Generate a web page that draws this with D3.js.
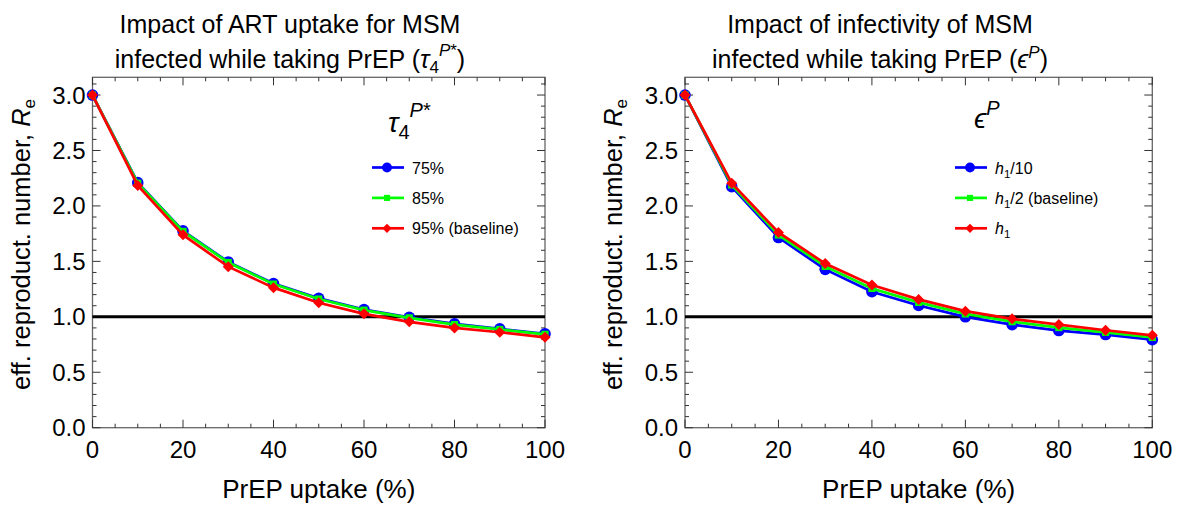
<!DOCTYPE html>
<html>
<head>
<meta charset="utf-8">
<script src="https://cdnjs.cloudflare.com/ajax/libs/d3/7.8.5/d3.min.js"></script>
<style>
  body { margin: 0; background: #fff; }
  svg { font-family: "Liberation Sans", Arial, sans-serif; }
</style>
</head>
<body>
<div id="chart"></div>
<script>
// PrEP uptake (%) on the x axis
const uptake = [0, 10, 20, 30, 40, 50, 60, 70, 80, 90, 100];

// left panel: ART uptake for MSM infected while taking PrEP
const art75 = [3.0, 2.21, 1.775, 1.495, 1.30, 1.166, 1.066, 0.996, 0.936, 0.891, 0.846];
const art85 = [3.0, 2.205, 1.77, 1.49, 1.295, 1.160, 1.060, 0.990, 0.930, 0.886, 0.842];
const art95 = [3.0, 2.185, 1.739, 1.452, 1.263, 1.127, 1.027, 0.955, 0.900, 0.861, 0.815];

// right panel: infectivity of MSM infected while taking PrEP
const infH10 = [3.0, 2.174, 1.715, 1.428, 1.226, 1.102, 1.000, 0.930, 0.876, 0.840, 0.794];
const infH2 = [3.0, 2.19, 1.738, 1.455, 1.256, 1.130, 1.026, 0.956, 0.903, 0.860, 0.814];
const infH1 = [3.0, 2.205, 1.761, 1.480, 1.286, 1.157, 1.051, 0.982, 0.930, 0.879, 0.833];

const xTicks = [0, 20, 40, 60, 80, 100];
const yTicks = [0, 0.5, 1.0, 1.5, 2.0, 2.5, 3.0];
const threshold = 1.0;

const colors = ["#0000ff", "#00ff00", "#ff0000"];
const shapes = ["circle", "square", "diamond"];

const W = 1182, H = 512;
const svg = d3.select("#chart").append("svg")
  .attr("width", W).attr("height", H);

const plotTop = 77.3, plotBottom = 427.7;

function drawMarker(g, shape, color, x, y, scale) {
  const s = scale || 1;
  if (shape === "circle") {
    g.append("circle").attr("cx", x).attr("cy", y).attr("r", 5.8 * s).attr("fill", color);
  } else if (shape === "square") {
    const a = 7.2 * s;
    g.append("rect").attr("x", x - a / 2).attr("y", y - a / 2)
      .attr("width", a).attr("height", a).attr("fill", color);
  } else {
    const d = 5.5 * s;
    g.append("path")
      .attr("d", `M${x},${y - d}L${x + d},${y}L${x},${y + d}L${x - d},${y}Z`)
      .attr("fill", color);
  }
}

function panel(opts) {
  const x = d3.scaleLinear().domain([0, 100]).range([opts.left, opts.right]);
  const y = d3.scaleLinear().domain([0, 3.16]).range([plotBottom, plotTop]);
  const g = svg.append("g");

  // frame
  g.append("rect").attr("x", opts.left).attr("y", plotTop)
    .attr("width", opts.right - opts.left).attr("height", plotBottom - plotTop)
    .attr("fill", "none").attr("stroke", "#666").attr("stroke-width", 1.3);

  // ticks (inward, mirrored)
  const xt = d3.range(0, 101, 5);
  xt.forEach(v => {
    const len = v % 20 === 0 ? 8 : 4;
    g.append("line").attr("x1", x(v)).attr("x2", x(v))
      .attr("y1", plotBottom).attr("y2", plotBottom - len).attr("stroke", "#333");
    g.append("line").attr("x1", x(v)).attr("x2", x(v))
      .attr("y1", plotTop).attr("y2", plotTop + len).attr("stroke", "#333");
  });
  const yt = d3.range(0, 32).map(i => i / 10);
  yt.forEach((v, i) => {
    const len = i % 5 === 0 ? 8 : 4;
    g.append("line").attr("x1", opts.left).attr("x2", opts.left + len)
      .attr("y1", y(v)).attr("y2", y(v)).attr("stroke", "#333");
    g.append("line").attr("x1", opts.right).attr("x2", opts.right - len)
      .attr("y1", y(v)).attr("y2", y(v)).attr("stroke", "#333");
  });

  // tick labels
  g.selectAll(".xl").data(xTicks).enter().append("text")
    .attr("x", d => x(d)).attr("y", plotBottom + 30)
    .attr("text-anchor", "middle").attr("font-size", 24).text(d => d);
  g.selectAll(".yl").data(yTicks).enter().append("text")
    .attr("x", opts.left - 7).attr("y", d => y(d) + 8.5)
    .attr("text-anchor", "end").attr("font-size", 24).text(d => d3.format(".1f")(d));

  // axis labels
  g.append("text").attr("x", (opts.left + opts.right) / 2).attr("y", 498)
    .attr("text-anchor", "middle").attr("font-size", 26).text("PrEP uptake (%)");
  const yl = g.append("text")
    .attr("transform", `translate(${opts.left - 63},${(plotTop + plotBottom) / 2 - 8}) rotate(-90)`)
    .attr("text-anchor", "middle").attr("font-size", 25.5);
  yl.append("tspan").text("eff. reproduct. number, ");
  yl.append("tspan").attr("font-style", "italic").text("R");
  yl.append("tspan").attr("font-size", 17).attr("dy", 5).text("e");

  // threshold line
  g.append("line").attr("x1", opts.left).attr("x2", opts.right)
    .attr("y1", y(threshold)).attr("y2", y(threshold))
    .attr("stroke", "#000").attr("stroke-width", 3);

  // series
  const line = d3.line().x((d, i) => x(uptake[i])).y(d => y(d));
  opts.series.forEach((s, k) => {
    g.append("path").datum(s).attr("d", line)
      .attr("fill", "none").attr("stroke", colors[k]).attr("stroke-width", 2.7);
    s.forEach((v, i) => drawMarker(g, shapes[k], colors[k], x(uptake[i]), y(v)));
  });

  // titles
  opts.title1(g.append("text").attr("x", opts.tx).attr("y", 33)
    .attr("text-anchor", "middle").attr("font-size", 25));
  opts.title2(g.append("text").attr("x", opts.tx).attr("y", 68)
    .attr("text-anchor", "middle").attr("font-size", 25));

  // legend
  opts.legendTitle(g.append("text").attr("x", opts.lgx).attr("y", opts.lgy)
    .attr("font-size", 28));
  opts.labels.forEach((lab, k) => {
    const ly = 167.5 + k * 30.4;
    g.append("line").attr("x1", opts.lx).attr("x2", opts.lx + 32)
      .attr("y1", ly).attr("y2", ly).attr("stroke", colors[k]).attr("stroke-width", 2.7);
    drawMarker(g, shapes[k], colors[k], opts.lx + 15, ly, 0.85);
    lab(g.append("text").attr("x", opts.lx + 40).attr("y", ly + 6).attr("font-size", 16));
  });
}

const tauSym = (t, big) => {
  t.append("tspan").attr("font-style", "italic").text("τ");
  t.append("tspan").attr("font-size", big ? 20 : 17).attr("dy", big ? 7 : 5).text("4");
  t.append("tspan").attr("font-style", "italic").attr("font-size", big ? 20 : 17)
    .attr("dy", big ? -22 : -17).text("P");
  t.append("tspan").attr("font-size", big ? 20 : 17).text("*");
  return t;
};
const epsSym = (t, big) => {
  t.append("tspan").attr("font-style", "italic").text("ϵ");
  t.append("tspan").attr("font-style", "italic").attr("font-size", big ? 20 : 17)
    .attr("dy", big ? -13 : -10).text("P");
  return t;
};
const hLabel = (sub, rest) => t => {
  t.append("tspan").attr("font-style", "italic").text("h");
  t.append("tspan").attr("font-size", 11.5).attr("dy", 4).text(sub);
  t.append("tspan").attr("dy", -4).text(rest);
};

panel({
  left: 92.5, right: 545,
  series: [art75, art85, art95],
  tx: 290,
  title1: t => t.text("Impact of ART uptake for MSM"),
  title2: t => {
    t.append("tspan").text("infected while taking PrEP (");
    tauSym(t, false);
    t.append("tspan").attr("dy", 12).attr("font-size", 25).text(")");
  },
  lgx: 388, lgy: 132,
  legendTitle: t => tauSym(t, true),
  lx: 372,
  labels: [t => t.text("75%"), t => t.text("85%"), t => t.text("95% (baseline)")]
});

panel({
  left: 685, right: 1152.3,
  series: [infH10, infH2, infH1],
  tx: 880,
  title1: t => t.text("Impact of infectivity of MSM"),
  title2: t => {
    t.append("tspan").text("infected while taking PrEP (");
    epsSym(t, false);
    t.append("tspan").attr("dy", 10).attr("font-size", 25).text(")");
  },
  lgx: 974, lgy: 128,
  legendTitle: t => epsSym(t, true),
  lx: 955,
  labels: [hLabel("1", "/10"), hLabel("1", "/2 (baseline)"), hLabel("1", "")]
});
</script>
</body>
</html>
